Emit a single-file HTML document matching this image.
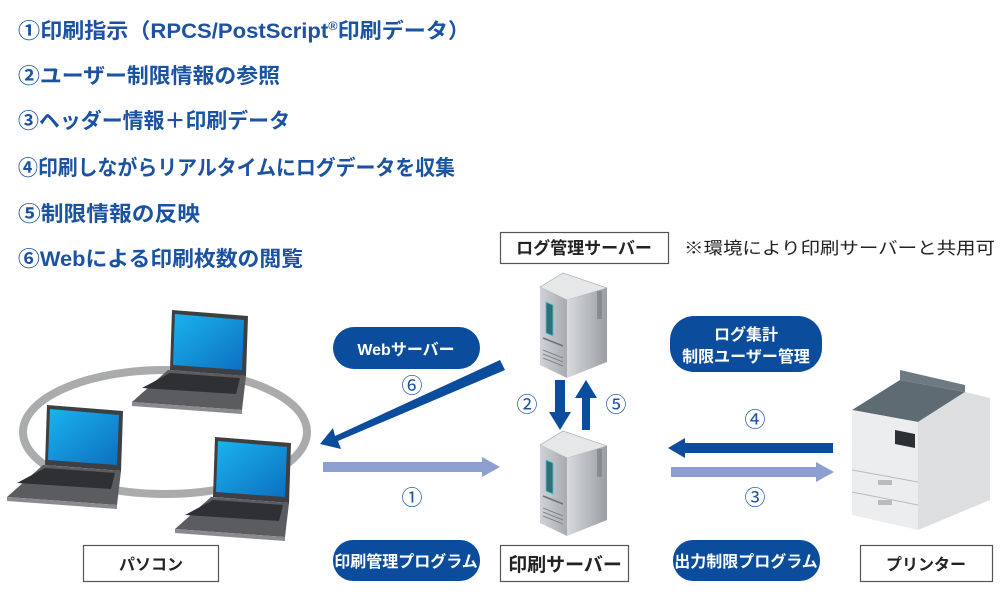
<!DOCTYPE html>
<html><head><meta charset="utf-8"><style>
html,body{margin:0;padding:0;background:#fff;width:1008px;height:597px;overflow:hidden}
svg{display:block}
.t{font-family:"Liberation Sans","Noto Sans CJK JP",sans-serif;}
</style></head><body>
<svg width="1008" height="597" viewBox="0 0 1008 597" xmlns="http://www.w3.org/2000/svg">
<defs>
<linearGradient id="scr" x1="0" y1="0" x2="1" y2="1"><stop offset="0" stop-color="#1ab3ee"/><stop offset="1" stop-color="#0d6fc0"/></linearGradient>
<linearGradient id="srvF" x1="0" y1="0" x2="1" y2="0"><stop offset="0" stop-color="#cfd2d6"/><stop offset="1" stop-color="#a7abb0"/></linearGradient>
<linearGradient id="srvS" x1="0" y1="0" x2="1" y2="0"><stop offset="0" stop-color="#d8dadd"/><stop offset="1" stop-color="#9a9ea3"/></linearGradient>
<g id="server">
<polygon points="540,287 563,273 607,288 567,300" fill="#e6e7e9" stroke="#a0a3a7" stroke-width="0.6"/>
<polygon points="540,287 567,300 567,378 540,365" fill="url(#srvF)"/>
<polygon points="567,300 607,288 607,362 567,378" fill="url(#srvS)"/>
<polygon points="546,302 553,305 553,336 546,333" fill="#2e6f78" stroke="#56c0d8" stroke-width="0.8"/>
<line x1="543" y1="338" x2="563" y2="346" stroke="#6f7378" stroke-width="1.5"/>
<line x1="543" y1="350" x2="563" y2="358" stroke="#777" stroke-width="0.8"/>
<line x1="543" y1="354" x2="563" y2="362" stroke="#777" stroke-width="0.8"/>
<line x1="543" y1="358" x2="563" y2="366" stroke="#777" stroke-width="0.8"/>
<rect x="597" y="291" width="5" height="28" fill="#777" opacity="0.6"/>
</g>
<g id="laptop">
<polygon points="0,0 76,6 74,66 -2,60" fill="#3e3f42"/>
<polygon points="3,4 72,10 70,60 1,55" fill="url(#scr)"/>
<polygon points="-4,60 74,66 70,100 -40,92" fill="#5b5c60"/>
<polygon points="-2,63 68,68 64,84 -30,78" fill="#2f3033"/>
<polygon points="-40,92 70,100 70,104 -40,96" fill="#8a8b8e"/>
</g>
</defs>

<!-- title lines -->
<g class="t" font-size="21" font-weight="bold" fill="#1b52a2" lengthAdjust="spacingAndGlyphs">
<text x="18" y="38" textLength="452" lengthAdjust="spacingAndGlyphs">①印刷指示（RPCS/PostScript<tspan font-size="12" dy="-8">®</tspan><tspan dy="8">印刷データ）</tspan></text>
<text x="18" y="83" textLength="262" lengthAdjust="spacingAndGlyphs">②ユーザー制限情報の参照</text>
<text x="18" y="128" textLength="272" lengthAdjust="spacingAndGlyphs">③ヘッダー情報＋印刷データ</text>
<text x="18" y="175" textLength="437" lengthAdjust="spacingAndGlyphs">④印刷しながらリアルタイムにログデータを収集</text>
<text x="18" y="221" textLength="182" lengthAdjust="spacingAndGlyphs">⑤制限情報の反映</text>
<text x="18" y="266" textLength="285" lengthAdjust="spacingAndGlyphs">⑥Webによる印刷枚数の閲覧</text>
</g>

<!-- ring -->
<ellipse cx="165" cy="432" rx="142" ry="62" fill="none" stroke="#a9abad" stroke-width="8"/>
<use href="#laptop" transform="translate(172,310)"/>
<use href="#laptop" transform="translate(47,405)"/>
<use href="#laptop" transform="translate(215,437)"/>

<!-- servers -->
<use href="#server"/>
<use href="#server" transform="translate(0,158)"/>

<!-- printer -->
<polygon points="852,410 900,380 965,392 918,422" fill="#5e6b73"/>
<polygon points="900,370 965,385 965,392 900,380" fill="#6d7a82"/>
<polygon points="852,410 918,422 918,530 852,515" fill="#ecedee"/>
<polygon points="918,422 965,392 990,398 990,500 918,530" fill="#dcdee0"/>
<polygon points="895,430 915,434 915,448 895,444" fill="#2b3035"/>
<line x1="852" y1="470" x2="918" y2="482" stroke="#bbb"/>
<line x1="852" y1="492" x2="918" y2="505" stroke="#bbb"/>
<rect x="878" y="480" width="14" height="5" fill="#bbb"/>
<rect x="878" y="500" width="14" height="5" fill="#bbb"/>

<!-- boxes -->
<g fill="#fff" stroke="#555" stroke-width="1.2">
<rect x="500.5" y="232.5" width="168" height="31"/>
<rect x="500.5" y="545.5" width="128" height="36"/>
<rect x="83.5" y="545.5" width="135" height="36"/>
<rect x="860.5" y="545.5" width="132" height="36"/>
</g>
<g class="t" font-weight="bold" fill="#222" text-anchor="middle">
<text x="584" y="254" font-size="17">ログ管理サーバー</text>
<text x="565" y="571" font-size="19">印刷サーバー</text>
<text x="151" y="570" font-size="16">パソコン</text>
<text x="926" y="570" font-size="16">プリンター</text>
</g>
<text class="t" x="684" y="254" font-size="17" fill="#222" textLength="311" lengthAdjust="spacingAndGlyphs">※環境により印刷サーバーと共用可</text>

<!-- pills -->
<g fill="#0b4c9c">
<rect x="333" y="327" width="147" height="42" rx="21"/>
<rect x="670" y="316" width="152" height="56" rx="24"/>
<rect x="333" y="540" width="147" height="41" rx="20"/>
<rect x="673" y="540" width="147" height="41" rx="20"/>
</g>
<g class="t" font-weight="bold" fill="#fff" text-anchor="middle" font-size="16">
<text x="406" y="355">Webサーバー</text>
<text x="746" y="340">ログ集計</text>
<text x="746" y="362">制限ユーザー管理</text>
<text x="406" y="567">印刷管理プログラム</text>
<text x="746" y="567">出力制限プログラム</text>
</g>

<!-- arrows -->
<g fill="#0b4c9c">
<polygon points="500,360 505,370 338,441 341,449 320,444 333,428 335,436"/>
<polygon points="555,380 565,380 565,412 571,412 560,430 549,412 555,412"/>
<polygon points="582,430 590,430 590,398 597,398 586,380 575,398 582,398"/>
<polygon points="833,443 833,453 685,453 685,458 668,448 685,438 685,443"/>
</g>
<g fill="#8d9fd0">
<polygon points="323,462 323,472 482,472 482,477 500,467 482,457 482,462"/>
<polygon points="671,467 671,477 816,477 816,482 834,472 816,462 816,467"/>
</g>
<g class="t" fill="#1b52a2" font-size="21" text-anchor="middle">
<text x="412" y="393">⑥</text>
<text x="412" y="505">①</text>
<text x="527" y="412">②</text>
<text x="616" y="412">⑤</text>
<text x="755" y="427">④</text>
<text x="755" y="505">③</text>
</g>
</svg>
</body></html>
